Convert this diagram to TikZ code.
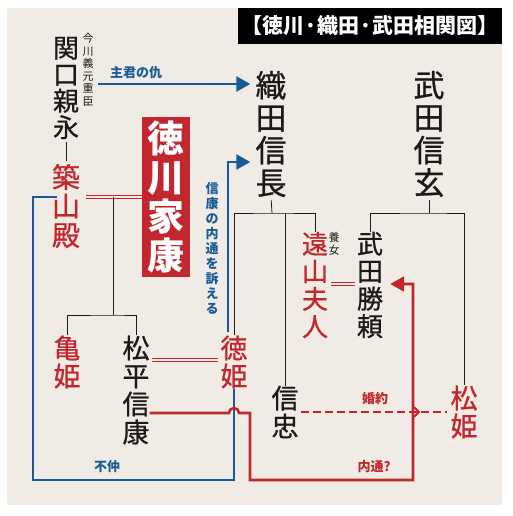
\documentclass[tikz,border=0pt]{standalone}
\usepackage{fontspec}
\newfontfamily\jp{Noto Sans CJK JP}
\newfontfamily\jpm[FakeBold=0.8]{Noto Sans CJK JP}
\usetikzlibrary{arrows.meta,calc}
\definecolor{paper}{HTML}{F0ECE5}
\definecolor{cred}{HTML}{C1272D}
\definecolor{cblue}{HTML}{175C98}
\definecolor{ink}{HTML}{1A1A1A}
\begin{document}
\begin{tikzpicture}[x=1pt,y=-1pt,
 person/.style={inner sep=0pt, align=center, text=ink},
 redname/.style={text=cred},
 fA/.style={font=\jpm\fontsize{26}{26.5}\selectfont},
 fB/.style={font=\jpm\fontsize{31}{32.5}\selectfont},
 fC/.style={font=\jpm\fontsize{27}{28}\selectfont},
 fD/.style={font=\jpm\fontsize{28}{29}\selectfont},
 fE/.style={font=\jpm\fontsize{26}{27.5}\selectfont},
 small/.style={font=\jp\fontsize{11}{12.5}\selectfont, inner sep=0pt, align=center, text=ink},
 blabel/.style={font=\jp\bfseries\fontsize{13}{15}\selectfont, text=cblue, inner sep=0pt, align=center},
 rlabel/.style={font=\jp\bfseries\fontsize{13}{15}\selectfont, text=cred, inner sep=0pt, align=center},
 kline/.style={draw=ink, line width=0.8pt},
 dbl/.style={draw=cred, double=paper, double distance=1.8pt, line width=1pt},
 bline/.style={draw=cblue, line width=2.6pt},
 rline/.style={draw=cred, line width=2.6pt},
 barrow/.style={bline, -{Triangle[length=14pt,width=15pt]}},
 rarrow/.style={rline, -{Triangle[length=14pt,width=15pt]}},
]
\useasboundingbox (0,0) rectangle (512,516);
\fill[white] (0,0) rectangle (512,516);
\fill[paper] (7,8) rectangle (502,505);

% title
\node[fill=black, minimum width=264pt, minimum height=36pt, inner sep=0pt, text=white,
      font=\jp\bfseries\fontsize{21}{24}\selectfont] (title) at (370,26) {【徳川·織田·武田相関図】};

% people
\node[person, fA] (sekiguchi) at (66,88) {関\\口\\親\\永};
\node[small] (kashin) at (88,70) {今\\川\\義\\元\\重\\臣};
\node[person, redname, fD] (tsukiyama) at (66,206) {築\\山\\殿};
\node[fill=cred, minimum width=48pt, minimum height=160pt, inner sep=0pt, text=white, align=center,
      font=\jp\bfseries\fontsize{37}{39}\selectfont] (ieyasu) at (166,197) {徳\\川\\家\\康};
\node[person, fB] (oda) at (271,134) {織\\田\\信\\長};
\node[person, fB] (shingen) at (429,134) {武\\田\\信\\玄};
\node[person, redname, fC] (kamehime) at (67,362) {亀\\姫};
\node[person, fC] (nobuyasu) at (136,390) {松\\平\\信\\康};
\node[person, redname, fC] (tokuhime) at (234,362) {徳\\姫};
\node[person, redname, fE] (toyama) at (315,285) {遠\\山\\夫\\人};
\node[small] (yojo) at (334,244) {養\\女};
\node[person, fE] (katsuyori) at (370,285) {武\\田\\勝\\頼};
\node[person, fC] (nobutada) at (285,412) {信\\忠};
\node[person, redname, fC] (matsuhime) at (464,412) {松\\姫};

% labels
\node[blabel] (lab1) at (136,73) {主君の仇};
\node[blabel] (lab2) at (212,248) {信\\康\\の\\内\\通\\を\\訴\\え\\る};
\node[blabel] (lab3) at (107,467) {不仲};
\node[rlabel] (lab4) at (375,399) {婚約};
\node[rlabel] (lab5) at (374,467) {内通?};

% helper coordinates
\coordinate (m1) at (113,197);
\coordinate (h1) at (113,315);
\coordinate (ob) at (272,213);
\coordinate (tb) at (429,213);
\coordinate (ya) at (0,84);
\coordinate (yb) at (0,162);
\coordinate (yn) at (0,360);
\coordinate (yk) at (0,284);
\coordinate (bl) at (33,480);
\coordinate (r1) at (250,413);
\coordinate (r2) at (413,480);

% family lines
\draw[kline, shorten <=3pt, shorten >=3pt] (sekiguchi.south) -- (tsukiyama.north);
\draw[dbl, shorten <=6pt] (tsukiyama.east |- m1) -- (ieyasu.west |- m1);
\draw[kline] (m1) -- (h1);
\draw[kline] (kamehime.north) |- (h1) -| (nobuyasu.north);
\draw[dbl, shorten <=2pt, shorten >=2pt] (nobuyasu.east |- yn) -- (tokuhime.west |- yn);
\draw[kline, shorten <=3pt] (oda.south) -- (ob);
\draw[kline] (tokuhime.north) |- (ob) -| (toyama.north);
\draw[kline] (ob -| nobutada.north) -- (nobutada.north);
\draw[kline, shorten <=3pt] (shingen.south) -- (tb);
\draw[kline] (katsuyori.north) |- (tb) -| (matsuhime.north);
\draw[dbl, shorten <=3pt, shorten >=2pt] (toyama.east |- yk) -- (katsuyori.west |- yk);

% blue relations
\draw[barrow, shorten <=4pt, shorten >=5pt] (kashin.east |- ya) -- (oda.west |- ya);
\draw[barrow, shorten >=5pt] ($(tokuhime.north)+(-6,-3)$) |- (oda.west |- yb);
\draw[bline, shorten <=-5pt] (tsukiyama.west |- m1) -| (bl) -| (tokuhime.south);

% red relations
\draw[rarrow, shorten >=7pt] (nobuyasu.east |- r1) -- ($(tokuhime.south |- r1)+(-5,0)$)
   arc[start angle=180, end angle=0, radius=5pt] -- (r1) |- (r2) |- (katsuyori.east |- yk);
\draw[rline, line width=2pt, dash pattern=on 8pt off 4pt, shorten <=2pt, shorten >=3pt]
   (nobutada.east) -- (matsuhime.west);
\coordinate (chev) at ($(r2 |- nobutada.east)+(6,0)$);
\draw[cred, line width=1.8pt] ($(chev)+(-5,-5)$) -- (chev) -- ($(chev)+(-5,5)$);
\end{tikzpicture}
\end{document}
